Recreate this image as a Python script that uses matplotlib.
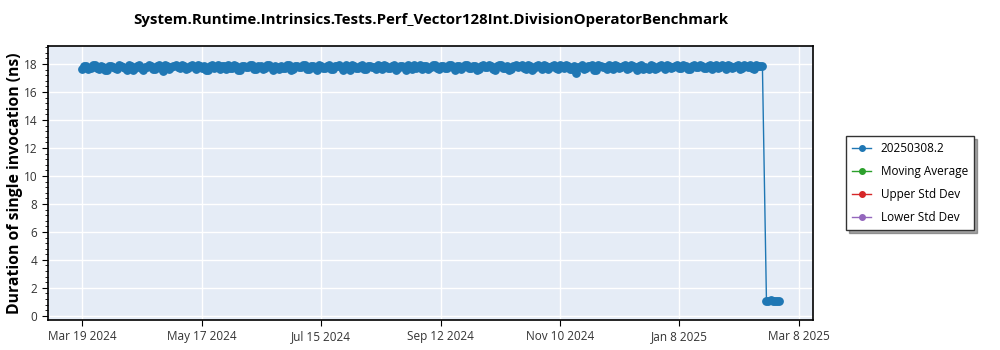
import numpy as np
import pandas as pd
import matplotlib
matplotlib.use("Agg")
import matplotlib.pyplot as plt
from matplotlib.ticker import MultipleLocator

plt.rcParams['font.family'] = ['Open Sans', 'DejaVu Sans']

title = "System.Runtime.Intrinsics.Tests.Perf_Vector128Int.DivisionOperatorBenchmark"
ylabel = "Duration of single invocation (ns)"
series_labels = ["20250308.2", "Moving Average", "Upper Std Dev", "Lower Std Dev"]
series_colors = ["#1f77b4", "#2ca02c", "#d62728", "#9467bd"]

# timings (ns) of runs on even days from Mar 19 2024
even_values = [
    17.62, 17.88, 17.75, 17.9, 17.68, 17.82, 17.55, 17.87, 17.7, 17.9, 17.78, 17.6,
    17.85, 17.72, 17.9, 17.58, 17.8, 17.88, 17.66, 17.9, 17.52, 17.84, 17.76, 17.9,
    17.69, 17.86, 17.74, 17.9, 17.63, 17.83, 17.88, 17.57, 17.9, 17.79, 17.67, 17.87,
    17.9, 17.71, 17.84, 17.6, 17.89, 17.77, 17.9, 17.65, 17.85, 17.73, 17.9, 17.54,
    17.82, 17.88, 17.7, 17.9, 17.62, 17.86, 17.78, 17.9, 17.68, 17.84, 17.56, 17.89,
    17.75, 17.9, 17.64, 17.87, 17.8, 17.9, 17.58, 17.83, 17.72, 17.9, 17.66, 17.88,
    17.79, 17.9, 17.61, 17.85, 17.74, 17.9, 17.69, 17.87, 17.55, 17.82, 17.9, 17.76,
    17.63, 17.89, 17.81, 17.9, 17.67, 17.86, 17.73, 17.9, 17.59, 17.84, 17.77, 17.9,
    17.7, 17.88, 17.62, 17.9, 17.8, 17.85, 17.57, 17.9, 17.75, 17.87, 17.66, 17.9,
    17.83, 17.71, 17.9, 17.6, 17.86, 17.78, 17.9, 17.64, 17.84, 17.69, 17.9, 17.74,
    17.88, 17.64, 17.35, 17.81, 17.68, 17.87, 17.9, 17.58, 17.85, 17.76, 17.9, 17.63,
    17.86, 17.79, 17.9, 17.7, 17.84, 17.55, 17.9, 17.82, 17.67, 17.88, 17.74, 17.9,
    17.61, 17.87, 17.8, 17.9, 17.72, 17.85, 17.64, 17.9, 17.78, 17.86, 17.69, 17.9,
    17.83, 17.75, 17.9, 17.66, 17.88, 17.8, 17.9, 17.71, 17.87, 17.9, 17.62, 17.85, 17.88,
]
# timings (ns) of runs on the odd days in between
odd_values = [
    17.84, 17.66, 17.9, 17.73, 17.87, 17.6, 17.89, 17.78, 17.64, 17.86, 17.7, 17.9,
    17.58, 17.88, 17.75, 17.82, 17.9, 17.63, 17.85, 17.71, 17.9, 17.67, 17.88, 17.79,
    17.9, 17.61, 17.84, 17.76, 17.9, 17.69, 17.56, 17.86, 17.74, 17.9, 17.83, 17.65,
    17.72, 17.9, 17.59, 17.87, 17.77, 17.9, 17.68, 17.85, 17.62, 17.9, 17.8, 17.88,
    17.66, 17.74, 17.9, 17.6, 17.87, 17.79, 17.9, 17.64, 17.86, 17.71, 17.9, 17.75,
    17.88, 17.63, 17.85, 17.9, 17.57, 17.82, 17.9, 17.7, 17.87, 17.61, 17.89, 17.76,
    17.66, 17.84, 17.9, 17.72, 17.88, 17.6, 17.86, 17.78, 17.9, 17.67, 17.73, 17.9,
    17.85, 17.62, 17.9, 17.75, 17.87, 17.69, 17.9, 17.8, 17.84, 17.64, 17.9, 17.71,
    17.88, 17.58, 17.86, 17.77, 17.9, 17.65, 17.83, 17.9, 17.7, 17.6, 17.88, 17.79,
    17.9, 17.66, 17.85, 17.74, 17.9, 17.62, 17.87, 17.81, 17.9, 17.68, 17.86, 17.9,
    17.63, 17.88, 17.76, 17.9, 17.7, 17.84, 17.6, 17.9, 17.79, 17.66, 17.87, 17.9,
    17.72, 17.85, 17.64, 17.9, 17.8, 17.88, 17.67, 17.74, 17.9, 17.61, 17.86, 17.78,
    17.9, 17.69, 17.84, 17.75, 17.9, 17.63, 17.87, 17.82, 17.9, 17.7, 17.88, 17.66,
    17.9, 17.78, 17.85, 17.9, 17.72, 17.87, 17.64, 17.9, 17.81, 17.74, 17.9, 17.86,
]
run_start = "2024-03-19"

# daily runs after the drop
late_start = "2025-02-20"
late_values = [1.08, 1.05, 1.1, 1.06, 1.07, 1.05, 1.09]

tick_start = "2024-03-19"
tick_step_days = 59
n_ticks = 7

even_dates = pd.date_range(run_start, periods=len(even_values), freq="2D")
odd_dates = even_dates[:len(odd_values)] + pd.Timedelta(days=1)
early = pd.concat([pd.Series(even_values, index=even_dates),
                   pd.Series(odd_values, index=odd_dates)]).sort_index()
late = pd.Series(late_values, index=pd.date_range(late_start, periods=len(late_values), freq="D"))
runs = pd.concat([early, late])

fig = plt.figure(figsize=(10, 3.5), dpi=100)
ax = fig.add_axes([0.048, 0.086, 0.765, 0.783])
ax.set_facecolor("#e5ecf6")

ax.plot(runs.index, runs.values, "-o", color=series_colors[0], lw=1, ms=5.3,
        label=series_labels[0])
for lab, col in zip(series_labels[1:], series_colors[1:]):
    ax.plot([], [], "-o", color=col, lw=1, ms=4, label=lab)

ticks = pd.date_range(tick_start, periods=n_ticks, freq=f"{tick_step_days}D")
ax.set_xticks(ticks)
ax.set_xticklabels([f"{d:%b} {d.day} {d.year}" for d in ticks])
ax.set_xlim(pd.Timestamp("2024-03-02"), pd.Timestamp("2025-03-15"))

ax.set_ylim(-0.29, 19.3)
ax.yaxis.set_major_locator(MultipleLocator(2))
ax.yaxis.set_minor_locator(MultipleLocator(0.4))

ax.grid(True, which="major", color="white", lw=1)
ax.set_axisbelow(True)
for s in ax.spines.values():
    s.set_color("black")
    s.set_linewidth(1.2)
ax.tick_params(axis="both", which="major", labelsize=8.5, labelcolor="#333333", length=4)
ax.tick_params(axis="y", which="minor", length=2)

ax.set_title(title, fontsize=10.8, fontweight="bold", pad=16)
ax.set_ylabel(ylabel, fontsize=11.3, fontweight="bold")
ax.yaxis.set_label_coords(-0.033, 0.5)

leg = ax.legend(loc="center left", bbox_to_anchor=(1.036, 0.5), fontsize=8.5,
                frameon=True, fancybox=False, shadow=True, borderpad=0.5,
                handlelength=1.6, labelspacing=0.85)
leg.get_frame().set_edgecolor("#333333")
leg.get_frame().set_linewidth(1)
for h in leg.legend_handles:
    h.set_markersize(4)

fig.savefig("out.png", dpi=100)
